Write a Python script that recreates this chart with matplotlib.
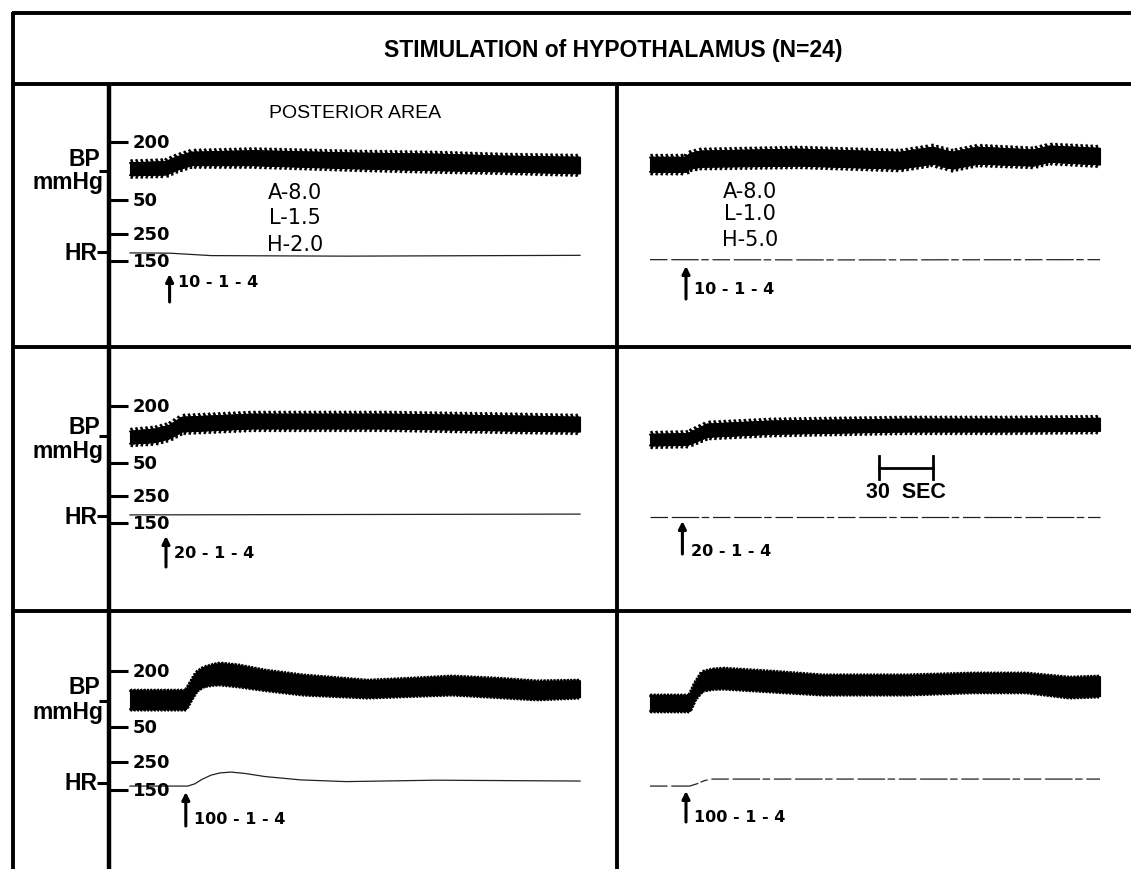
import numpy as np
import matplotlib
matplotlib.use("Agg")
import matplotlib.pyplot as plt
import matplotlib.patheffects as pe
from matplotlib.lines import Line2D
from matplotlib.transforms import blended_transform_factory

W, H = 1131, 870

# ---------------- data ----------------
# time in s from start of trace, BP envelope in mmHg, HR in beats/min
# row 1 : 10-1-4
t_r1l   = [0, 10, 20, 26, 34, 68, 124, 171, 207, 250]
sys_r1l = [146, 147, 149, 161, 173, 177, 171, 168, 163, 160]
dia_r1l = [114, 115, 116, 128, 140, 140, 132, 127, 124, 119]
hrt_r1l = [0, 22, 45, 120, 250]
hr_r1l  = [180, 179, 170, 168, 171]

t_r1r   = [0, 20, 22, 28, 83, 139, 157, 168, 182, 213, 222, 250]
sys_r1r = [160, 160, 169, 176, 181, 173, 186, 173, 186, 179, 189, 183]
dia_r1r = [123, 123, 131, 136, 139, 131, 144, 131, 144, 139, 149, 142]
hrt_r1r = [0, 100, 250]
hr_r1r  = [155, 154, 155]

# row 2 : 20-1-4
t_r2l   = [0, 14, 22, 29, 68, 143, 217, 250]
sys_r2l = [133, 139, 149, 170, 178, 178, 173, 170]
dia_r2l = [101, 105, 115, 133, 141, 141, 135, 133]
hrt_r2l = [0, 250]
hr_r2l  = [180, 183]

t_r2r   = [0, 21, 32, 68, 143, 198, 250]
sys_r2r = [125, 127, 152, 160, 165, 165, 167]
dia_r2r = [96, 98, 119, 127, 133, 133, 135]
hrt_r2r = [0, 250]
hr_r2r  = [172, 172]

# row 3 : 100-1-4
t_r3l   = [0, 31, 34, 37, 41, 46, 50, 60, 75, 96, 132, 155, 179, 205, 226, 250]
sys_r3l = [146, 146, 170, 195, 208, 215, 219, 214, 200, 187, 173, 178, 184, 178, 171, 173]
dia_r3l = [98, 98, 125, 148, 160, 164, 165, 160, 150, 138, 130, 134, 138, 131, 125, 130]
hrt_r3l = [0, 32, 36, 40, 45, 50, 56, 64, 75, 95, 120, 170, 250]
hr_r3l  = [164, 164, 172, 188, 203, 211, 214, 209, 198, 186, 180, 185, 182]

t_r3r   = [0, 22, 25, 29, 35, 41, 68, 96, 143, 179, 209, 233, 250]
sys_r3r = [133, 133, 165, 196, 203, 205, 197, 187, 187, 192, 192, 181, 184]
dia_r3r = [93, 93, 125, 148, 153, 154, 146, 138, 138, 144, 144, 130, 133]
hrt_r3r = [0, 22, 26, 30, 34, 60, 250]
hr_r3r  = [164, 164, 172, 183, 189, 189, 189]

stim_left = [22, 20, 31]
stim_right = [20, 18, 20]
stim_labels = ["10 - 1 - 4", "20 - 1 - 4", "100 - 1 - 4"]

coords_left = ["A-8.0", "L-1.5", "H-2.0"]
coords_right = ["A-8.0", "L-1.0", "H-5.0"]

bp_ticks = [200, 50]
hr_ticks = [250, 150]

panels = [
    [(t_r1l, sys_r1l, dia_r1l, hrt_r1l, hr_r1l), (t_r1r, sys_r1r, dia_r1r, hrt_r1r, hr_r1r)],
    [(t_r2l, sys_r2l, dia_r2l, hrt_r2l, hr_r2l), (t_r2r, sys_r2r, dia_r2r, hrt_r2r, hr_r2r)],
    [(t_r3l, sys_r3l, dia_r3l, hrt_r3l, hr_r3l), (t_r3r, sys_r3r, dia_r3r, hrt_r3r, hr_r3r)],
]

# ---------------- layout (pixels from top-left) ----------------
# y of the 200 / 50 mmHg and 250 / 150 bpm calibration marks for each row
row_cal = [(143, 201, 235, 262), (407, 464, 497, 524), (672, 728, 763, 791)]
row_bp_lbl = [(160, 182, 172), (427, 452, 437), (688, 713, 702)]
row_hr_lbl = [253, 517, 784]
arrow_y = [(303, 275, 283), (568, 537, 554), (827, 793, 820)]
arrow_y_r = [(300, 267, 290), (555, 522, 552), (823, 792, 818)]
tooth = [(3.6, 0.5), (3.6, 0.5), (2.4, 0.35)]

fig = plt.figure(figsize=(W / 100, H / 100), dpi=100)
fig.patch.set_facecolor("white")
plt.rcParams["font.family"] = ["DejaVu Sans"]


def fx(x):
    return x / W


def fy(y):
    return 1 - y / H


def hline(x0, x1, y, lw=2.8):
    fig.add_artist(Line2D([fx(x0), fx(x1)], [fy(y), fy(y)], lw=lw, color="k",
                          solid_capstyle="butt"))


def vline(x, y0, y1, lw=2.8):
    fig.add_artist(Line2D([fx(x), fx(x)], [fy(y0), fy(y1)], lw=lw, color="k",
                          solid_capstyle="butt"))


# frame
hline(12, W, 14)
hline(12, W, 85)
hline(12, W, 348)
hline(12, W, 612)
vline(13, 13, H)
vline(109, 85, H, lw=3.2)
vline(617, 85, H)

# title
fig.text(fx(613), fy(51), "STIMULATION of HYPOTHALAMUS (N=24)", ha="center", va="center",
         fontsize=16.5, fontweight="bold", family="Liberation Sans")
fig.text(fx(355), fy(113), "POSTERIOR AREA", ha="center", va="center", fontsize=14,
         family="Liberation Sans")


def bp_trace(ax, t, sys_, dia_, sp, ln):
    ax.fill_between(t, dia_, sys_, color="k", lw=0.8, clip_on=False)
    ax.plot(t, sys_, color="k", lw=1.0, clip_on=False,
            path_effects=[pe.Normal(), pe.withTickedStroke(spacing=sp, angle=110, length=ln, linewidth=1.8)])
    ax.plot(t, dia_, color="k", lw=1.0, clip_on=False,
            path_effects=[pe.Normal(), pe.withTickedStroke(spacing=sp, angle=-110, length=ln, linewidth=1.8)])


for r in range(3):
    y200, y50, y250, y150 = row_cal[r]
    for c in range(2):
        t, s, d, ht, hr = panels[r][c]
        x0, x1 = (130, 580) if c == 0 else (650, 1100)
        ax_bp = fig.add_axes([fx(x0), fy(y50), (x1 - x0) / W, (y50 - y200) / H])
        ax_bp.set_xlim(0, 250)
        ax_bp.set_ylim(50, 200)
        ax_bp.axis("off")
        ax_hr = fig.add_axes([fx(x0), fy(y150), (x1 - x0) / W, (y150 - y250) / H])
        ax_hr.set_xlim(0, 250)
        ax_hr.set_ylim(150, 250)
        ax_hr.axis("off")

        bp_trace(ax_bp, t, s, d, *tooth[r])
        ls = "-" if (c == 0) else (0, (14, 3, 22, 2, 6, 3))
        ax_hr.plot(ht, hr, color="#222222", lw=0.9, ls=ls, clip_on=False)

        # stimulus arrow
        ts = stim_left[r] if c == 0 else stim_right[r]
        ay = arrow_y[r] if c == 0 else arrow_y_r[r]
        ax_hr.annotate("", xy=(ts, fy(ay[1])), xycoords=("data", "figure fraction"),
                       xytext=(ts, fy(ay[0])), textcoords=("data", "figure fraction"),
                       arrowprops=dict(arrowstyle="-|>", lw=2.2, color="k",
                                       mutation_scale=11, shrinkA=0, shrinkB=0))
        ax_hr.annotate(stim_labels[r], xy=(ts, fy(ay[2])), xycoords=("data", "figure fraction"),
                       xytext=(6, 0), textcoords="offset points", ha="left", va="center",
                       fontsize=11.5, fontweight="bold")

        if r == 1 and c == 1:
            tr = blended_transform_factory(ax_bp.transData, fig.transFigure)
            ax_bp.plot([127, 157], [fy(469), fy(469)], color="k", lw=2.0, transform=tr, clip_on=False)
            for xe in (127, 157):
                ax_bp.plot([xe, xe], [fy(457), fy(480)], color="k", lw=2.0, transform=tr,
                           clip_on=False)
            ax_bp.text(142, fy(493), "30  SEC", transform=tr, ha="center", va="center",
                       fontsize=15.5, fontweight="bold", family="Liberation Sans")

    # calibration marks on the left axis
    for yy, lab in zip((y200, y50, y250, y150), bp_ticks + hr_ticks):
        hline(109, 128, yy, lw=2.2)
        fig.text(fx(133), fy(yy), str(lab), ha="left", va="center", fontsize=13,
                 fontweight="bold")
    bp_y, mm_y, bpt_y = row_bp_lbl[r]
    hline(99, 109, bpt_y, lw=2.2)
    fig.text(fx(100), fy(bp_y), "BP", ha="right", va="center", fontsize=16.5,
             fontweight="bold", family="Liberation Sans")
    fig.text(fx(103), fy(mm_y), "mmHg", ha="right", va="center", fontsize=16.5,
             fontweight="bold", family="Liberation Sans")
    hline(97, 109, row_hr_lbl[r], lw=2.2)
    fig.text(fx(97), fy(row_hr_lbl[r]), "HR", ha="right", va="center", fontsize=16.5,
             fontweight="bold", family="Liberation Sans")

# stereotaxic coordinates
for i, (a, b) in enumerate(zip(coords_left, coords_right)):
    yy = [193, 218, 245][i]
    fig.text(fx(295), fy(yy), a, ha="center", va="center", fontsize=15)
    yy = [192, 214, 240][i]
    fig.text(fx(750), fy(yy), b, ha="center", va="center", fontsize=15)

fig.savefig("out.png", dpi=100, facecolor="white")
